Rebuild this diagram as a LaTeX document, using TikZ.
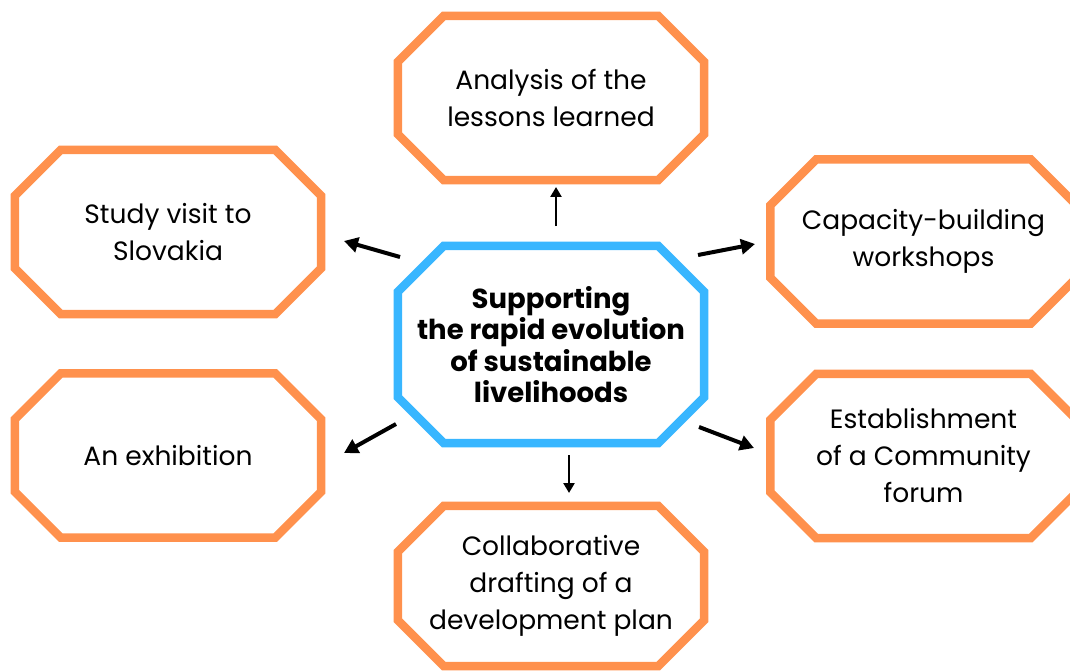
\documentclass[tikz,border=0pt]{standalone}
\usepackage{fontspec}
\setmainfont{Poppins}
\usetikzlibrary{calc,arrows.meta}
\definecolor{org}{HTML}{FF914D}
\definecolor{blu}{HTML}{38B6FF}
\tikzset{
 box/.style={minimum width=306pt, minimum height=164pt, inner sep=0pt, align=center, font=\fontsize{26.5}{37}\selectfont},
 midbox/.style={box, minimum height=197pt, font=\fontsize{27.5}{31.5}\selectfont\bfseries},
 frame/.style={line width=8.5pt, line join=miter},
 arr/.style={line width=4pt, -{Triangle[length=14pt,width=15pt]}},
 thinarr/.style={line width=2.8pt, -{Triangle[length=10pt,width=11pt]}},
}
\newcommand\octa[2]{\draw[frame,#2] ($(#1.north west)+(46pt,0pt)$) -- ($(#1.north east)+(-46pt,0pt)$) -- ($(#1.north east)+(0pt,-46pt)$) -- ($(#1.south east)+(0pt,46pt)$) -- ($(#1.south east)+(-46pt,0pt)$) -- ($(#1.south west)+(46pt,0pt)$) -- ($(#1.south west)+(0pt,46pt)$) -- ($(#1.north west)+(0pt,-46pt)$) -- cycle;}
\begin{document}
\begin{tikzpicture}[x=1pt,y=-1pt]
\useasboundingbox (0,0) rectangle (1070,671);
\fill[white] (0,0) rectangle (1070,671);
\clip (0,0) rectangle (1070,671);
\node[box] (A) at (551,98) {Analysis of the\\lessons learned};
\node[midbox] (C) at (551,344.5) {Supporting\\the rapid evolution\\of sustainable\\livelihoods};
\node[box] (S) at (168,232) {Study visit to\\Slovakia};
\node[box] (E) at (168,455.5) {An exhibition};
\node[box] (K) at (923.5,241.5) {Capacity-building\\workshops};
\node[box] (F) at (923.5,456) {Establishment\\of a Community\\forum};
\node[box, minimum height=160pt] (D) at (551,586) {Collaborative\\drafting of a\\development plan};
\octa{A}{org}
\octa{S}{org}
\octa{E}{org}
\octa{K}{org}
\octa{F}{org}
\octa{D}{org}
\octa{C}{blu}
\coordinate (u1) at (556,226); \coordinate (u2) at (556,187);
\coordinate (d1) at (569,455); \coordinate (d2) at (569,493);
\coordinate (ul1) at (400,257); \coordinate (ul2) at (344,241);
\coordinate (ur1) at (698,255); \coordinate (ur2) at (755,244);
\coordinate (ll1) at (396,424); \coordinate (ll2) at (344,453);
\coordinate (lr1) at (699,427); \coordinate (lr2) at (754,448);
\draw[thinarr] (u1) -- (u2);
\draw[thinarr] (d1) -- (d2);
\draw[arr] (ul1) -- (ul2);
\draw[arr] (ur1) -- (ur2);
\draw[arr] (ll1) -- (ll2);
\draw[arr] (lr1) -- (lr2);
\end{tikzpicture}
\end{document}
